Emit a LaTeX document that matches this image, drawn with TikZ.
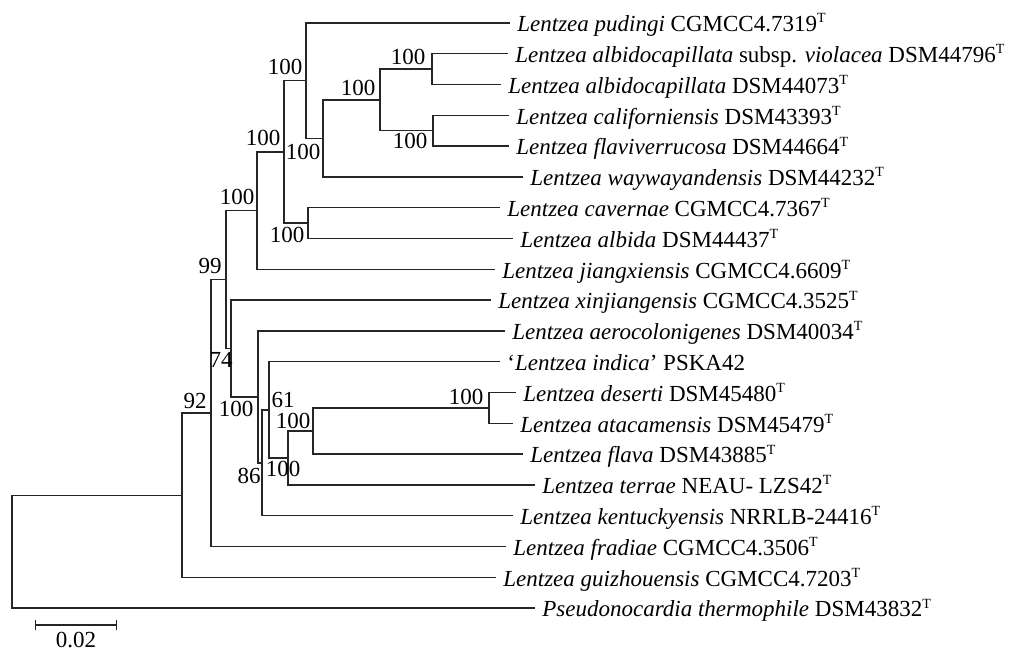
\documentclass[tikz,border=0pt]{standalone}
\usepackage{fontspec}
\setmainfont{Liberation Serif}
\usetikzlibrary{arrows.meta}
\newcommand{\typestr}{\textsuperscript{\fontsize{7}{8}\selectfont T}}

\begin{document}
\begin{tikzpicture}[x=0.5pt, y=-0.5pt,
		branch/.style={line width=0.7pt, draw=black!85},
		leaf/.style={anchor=west, inner xsep=3.5pt, inner ysep=0pt, text height=8.7pt, text depth=0pt, font=\fontsize{11.5}{13}\selectfont},
		boot/.style={inner sep=0pt, font=\fontsize{11.5}{13}\selectfont}]
	\useasboundingbox (0,0) rectangle (1023,651);

	% internal nodes
	\coordinate (r) at (12,551.7);
	\coordinate (a) at (182,495.3);
	\coordinate (b) at (211,413.1);
	\coordinate (c) at (226,279.6);
	\coordinate (d) at (257,210.7);
	\coordinate (f) at (284,152);
	\coordinate (g) at (306,80.8);
	\coordinate (i) at (323,138.5);
	\coordinate (j) at (380,100);
	\coordinate (k) at (432,69.2);
	\coordinate (l) at (433,130.8);
	\coordinate (h) at (308,223.2);
	\coordinate (e) at (231,348.6);
	\coordinate (m) at (258,397);
	\coordinate (n) at (262,462.9);
	\coordinate (o) at (269,409.9);
	\coordinate (p) at (288,458);
	\coordinate (q) at (313,431.1);
	\coordinate (s) at (489,408);

	% leaves
	\node[leaf] (pudingi) at (510,23) {\textit{Lentzea pudingi} CGMCC4.7319\typestr};
	\node[leaf] (violacea) at (508,53.8) {\textit{Lentzea albidocapillata} subsp. \textit{violacea} DSM44796\typestr};
	\node[leaf] (albidocap) at (501,84.6) {\textit{Lentzea albidocapillata} DSM44073\typestr};
	\node[leaf] (californ) at (509,115.4) {\textit{Lentzea californiensis} DSM43393\typestr};
	\node[leaf] (flaviv) at (509,146.2) {\textit{Lentzea flaviverrucosa} DSM44664\typestr};
	\node[leaf] (wayway) at (523,177) {\textit{Lentzea waywayandensis} DSM44232\typestr};
	\node[leaf] (cavernae) at (500,207.8) {\textit{Lentzea cavernae} CGMCC4.7367\typestr};
	\node[leaf] (albida) at (513,238.6) {\textit{Lentzea albida} DSM44437\typestr};
	\node[leaf] (jiang) at (495,269.4) {\textit{Lentzea jiangxiensis} CGMCC4.6609\typestr};
	\node[leaf] (xinjiang) at (491,300.2) {\textit{Lentzea xinjiangensis} CGMCC4.3525\typestr};
	\node[leaf] (aerocol) at (505,331) {\textit{Lentzea aerocolonigenes} DSM40034\typestr};
	\node[leaf] (indica) at (500,361.8) {`\textit{Lentzea indica}' PSKA42};
	\node[leaf] (deserti) at (516,392.6) {\textit{Lentzea deserti} DSM45480\typestr};
	\node[leaf] (atacam) at (513,423.4) {\textit{Lentzea atacamensis} DSM45479\typestr};
	\node[leaf] (flava) at (523,454.2) {\textit{Lentzea flava} DSM43885\typestr};
	\node[leaf] (terrae) at (535,485) {\textit{Lentzea terrae} NEAU- LZS42\typestr};
	\node[leaf] (kentucky) at (513,515.8) {\textit{Lentzea kentuckyensis} NRRLB-24416\typestr};
	\node[leaf] (fradiae) at (506,546.6) {\textit{Lentzea fradiae} CGMCC4.3506\typestr};
	\node[leaf] (guiz) at (496,577.4) {\textit{Lentzea guizhouensis} CGMCC4.7203\typestr};
	\node[leaf] (pseudo) at (535,608.2) {\textit{Pseudonocardia thermophile} DSM43832\typestr};

	% branches
	\draw[branch] (r) |- (a) (r) |- (pseudo.west);
	\draw[branch] (a) |- (b) (a) |- (guiz.west);
	\draw[branch] (b) |- (c) (b) |- (fradiae.west);
	\draw[branch] (c) |- (d) (c) |- (e);
	\draw[branch] (d) |- (f) (d) |- (jiang.west);
	\draw[branch] (f) |- (g) (f) |- (h);
	\draw[branch] (g) |- (pudingi.west) (g) |- (i);
	\draw[branch] (i) |- (j) (i) |- (wayway.west);
	\draw[branch] (j) |- (k) (j) |- (l);
	\draw[branch] (k) |- (violacea.west) (k) |- (albidocap.west);
	\draw[branch] (l) |- (californ.west) (l) |- (flaviv.west);
	\draw[branch] (h) |- (cavernae.west) (h) |- (albida.west);
	\draw[branch] (e) |- (xinjiang.west) (e) |- (m);
	\draw[branch] (m) |- (aerocol.west) (m) |- (n);
	\draw[branch] (n) |- (o) (n) |- (kentucky.west);
	\draw[branch] (o) |- (indica.west) (o) |- (p);
	\draw[branch] (p) |- (q) (p) |- (terrae.west);
	\draw[branch] (q) |- (s) (q) |- (flava.west);
	\draw[branch] (s) |- (deserti.west) (s) |- (atacam.west);

	% bootstrap values
	\node[boot] (bb) at (195,401) {92};
	\node[boot] (bc) at (210,266) {99};
	\node[boot] (bd) at (237,197) {100};
	\node[boot] (bf) at (263,138) {100};
	\node[boot] (bg) at (285,67) {100};
	\node[boot] (bi) at (303,152) {100};
	\node[boot] (bj) at (358,88) {100};
	\node[boot] (bk) at (408,57) {100};
	\node[boot] (bl) at (410,141) {100};
	\node[boot] (bh) at (287,235) {100};
	\node[boot] (be) at (221,360) {74};
	\node[boot] (bm) at (236,409) {100};
	\node[boot] (bn) at (249,476) {86};
	\node[boot] (bo) at (283,400) {61};
	\node[boot] (bp) at (283,469) {100};
	\node[boot] (bq) at (293,421) {100};
	\node[boot] (bs) at (466,397) {100};

	% scale bar
	\coordinate (sbl) at (35,625);
	\coordinate (sbr) at (117,625);
	\draw[branch, {Bar[width=5pt]}-{Bar[width=5pt]}] (sbl) -- (sbr);
	\node[boot] (sbt) at (76,640) {0.02};
\end{tikzpicture}
\end{document}
